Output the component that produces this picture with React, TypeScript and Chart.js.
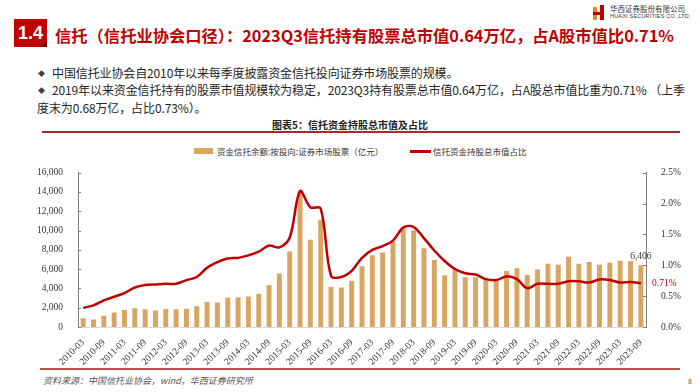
import React, { useEffect, useRef } from "react";
import { Chart, registerables } from "chart.js";

Chart.register(...registerables);

const quarters = [
  "2010-03", "2010-06", "2010-09", "2010-12",
  "2011-03", "2011-06", "2011-09", "2011-12",
  "2012-03", "2012-06", "2012-09", "2012-12",
  "2013-03", "2013-06", "2013-09", "2013-12",
  "2014-03", "2014-06", "2014-09", "2014-12",
  "2015-03", "2015-06", "2015-09", "2015-12",
  "2016-03", "2016-06", "2016-09", "2016-12",
  "2017-03", "2017-06", "2017-09", "2017-12",
  "2018-03", "2018-06", "2018-09", "2018-12",
  "2019-03", "2019-06", "2019-09", "2019-12",
  "2020-03", "2020-06", "2020-09", "2020-12",
  "2021-03", "2021-06", "2021-09", "2021-12",
  "2022-03", "2022-06", "2022-09", "2022-12",
  "2023-03", "2023-06", "2023-09",
];

// 资金信托余额:按投向:证券市场股票（亿元）
const stockValue = [
  900, 780, 1160, 1500,
  1770, 1940, 1840, 1700,
  1870, 1840, 1900, 2140,
  2590, 2550, 3060, 3060,
  3170, 3440, 4320, 5550,
  7830, 14130, 9060, 11130,
  4150, 4100, 4800, 6300,
  7430, 7730, 8850, 10110,
  10040, 8170, 6940, 5370,
  5960, 5170, 5170, 4960,
  4790, 5800, 6100, 5400,
  5950, 6560, 6460, 7280,
  6560, 6730, 6460, 6660,
  6860, 6830, 6406,
];

// 信托资金持股总市值占比（%）
const stockShare = [
  0.31, 0.35, 0.43, 0.49,
  0.55, 0.64, 0.68, 0.69,
  0.70, 0.70, 0.76, 0.81,
  0.96, 1.05, 1.11, 1.12,
  1.16, 1.22, 1.32, 1.29,
  1.45, 2.20, 1.94, 1.92,
  0.83, 0.81, 0.91, 1.12,
  1.25, 1.31, 1.40, 1.61,
  1.62, 1.44, 1.24, 1.07,
  0.94, 0.87, 0.85, 0.775,
  0.76, 0.82, 0.775, 0.63,
  0.70, 0.70, 0.70, 0.74,
  0.74, 0.72, 0.77, 0.76,
  0.72, 0.73, 0.71,
];

const leftAxis = { min: 0, max: 16000, step: 2000 };
const rightAxis = { min: 0, max: 2.5, step: 0.5 };

const seriesNames = ["资金信托余额:按投向:证券市场股票（亿元）", "信托资金持股总市值占比"];

const BAR_COLOR = "#D9A562";
const LINE_COLOR = "#C00000";
const SERIF = "'Liberation Serif', 'Times New Roman', serif";
const SANS = "'Noto Sans CJK SC', 'Noto Sans', sans-serif";

function withCommas(n: number): string {
  const s = String(Math.round(n));
  return s.replace(/\B(?=(\d{3})+(?!\d))/g, ",");
}

const endLabels = {
  id: "endLabels",
  afterDatasetsDraw(chart: any) {
    const { ctx, chartArea } = chart;
    const xs = chart.scales.x;
    const yl = chart.scales.y;
    const yr = chart.scales.y1;
    const last = stockValue.length - 1;
    ctx.save();
    ctx.strokeStyle = "#808080";
    ctx.lineWidth = 1;
    for (let v = leftAxis.min; v <= leftAxis.max; v += leftAxis.step) {
      const py = Math.round(yl.getPixelForValue(v)) + 0.5;
      ctx.beginPath();
      ctx.moveTo(chartArea.left, py);
      ctx.lineTo(chartArea.left + 3, py);
      ctx.stroke();
    }
    for (let v = rightAxis.min; v <= rightAxis.max + 1e-9; v += rightAxis.step) {
      const py = Math.round(yr.getPixelForValue(v)) + 0.5;
      ctx.beginPath();
      ctx.moveTo(chartArea.right - 3, py);
      ctx.lineTo(chartArea.right, py);
      ctx.stroke();
    }
    ctx.font = `9.5px ${SERIF}`;
    ctx.fillStyle = "#404040";
    ctx.textAlign = "center";
    ctx.textBaseline = "bottom";
    ctx.fillText(
      withCommas(stockValue[last]),
      xs.getPixelForValue(last),
      yl.getPixelForValue(stockValue[last]) - 4
    );
    ctx.fillStyle = LINE_COLOR;
    ctx.textAlign = "left";
    ctx.textBaseline = "middle";
    ctx.fillText(
      stockShare[last].toFixed(2) + "%",
      chartArea.right + 6,
      yr.getPixelForValue(stockShare[last])
    );
    ctx.restore();
  },
};

function TrustChart() {
  const ref = useRef<HTMLCanvasElement | null>(null);
  useEffect(() => {
    if (!ref.current) return;
    const chart = new Chart(ref.current, {
      type: "bar",
      data: {
        labels: quarters,
        datasets: [
          {
            type: "line",
            label: seriesNames[1],
            data: stockShare,
            yAxisID: "y1",
            borderColor: LINE_COLOR,
            backgroundColor: LINE_COLOR,
            borderWidth: 2.5,
            pointRadius: 0,
            tension: 0.35,
            order: 0,
          } as any,
          {
            type: "bar",
            label: seriesNames[0],
            data: stockValue,
            yAxisID: "y",
            backgroundColor: BAR_COLOR,
            categoryPercentage: 1,
            barPercentage: 0.48,
            order: 1,
          } as any,
        ],
      },
      options: {
        responsive: false,
        maintainAspectRatio: false,
        animation: false,
        layout: { padding: { top: 10, left: 0, right: 0, bottom: 0 } },
        plugins: {
          legend: { display: false },
          tooltip: { enabled: false },
          title: { display: false },
        },
        scales: {
          x: {
            grid: { display: false },
            border: { display: true, color: "#D9D9D9", width: 1 },
            ticks: {
              autoSkip: false,
              maxRotation: 45,
              minRotation: 45,
              padding: 2,
              color: "#333333",
              font: { family: SERIF, size: 9.5 },
              callback: (_v: any, i: number) => (i % 2 === 0 ? quarters[i] : ""),
            },
            afterFit: (s: any) => {
              s.height = 38;
            },
          },
          y: {
            position: "left",
            min: leftAxis.min,
            max: leftAxis.max,
            grid: { display: false },
            border: { display: true, color: "#808080", width: 1 },
            ticks: {
              stepSize: leftAxis.step,
              padding: 7,
              color: "#333333",
              font: { family: SERIF, size: 9.5 },
              callback: (v: any) => withCommas(Number(v)),
            },
            afterFit: (s: any) => {
              s.width = 78;
            },
          },
          y1: {
            position: "right",
            min: rightAxis.min,
            max: rightAxis.max,
            grid: { display: false },
            border: { display: true, color: "#808080", width: 1 },
            ticks: {
              stepSize: rightAxis.step,
              padding: 7,
              color: "#333333",
              font: { family: SERIF, size: 9.5 },
              callback: (v: any) => Number(v).toFixed(1) + "%",
            },
            afterFit: (s: any) => {
              s.width = 54;
            },
          },
        },
      },
      plugins: [endLabels],
    });
    return () => chart.destroy();
  }, []);
  return (
    <canvas
      ref={ref}
      width={700}
      height={205}
      style={{ position: "absolute", left: 0, top: 160, width: 700, height: 205 }}
    />
  );
}

const abs = (o: React.CSSProperties): React.CSSProperties => ({
  position: "absolute",
  whiteSpace: "nowrap",
  ...o,
});

export default function App() {
  return (
    <div
      style={{
        position: "absolute",
        left: 0,
        top: 0,
        width: 700,
        height: 392,
        background: "#ffffff",
        overflow: "hidden",
        fontFamily: SANS,
      }}
    >
      {/* section box */}
      <div
        style={abs({
          left: 14,
          top: 19,
          width: 33,
          height: 28,
          background: "#C00000",
          color: "#ffffff",
          fontFamily: "'Liberation Sans', Arial, sans-serif",
          fontWeight: 700,
          fontSize: 18,
          lineHeight: "28px",
          textAlign: "center",
        })}
      >
        1.4
        <div
          style={abs({
            right: 0,
            bottom: 0,
            width: 0,
            height: 0,
            borderLeft: "6px solid transparent",
            borderBottom: "6px solid #6E0000",
          })}
        />
      </div>
      <div
        style={abs({
          left: 55,
          top: 24,
          fontSize: 16.3,
          lineHeight: "22px",
          fontWeight: 700,
          color: "#C00000",
        })}
      >
        信托（信托业协会口径）：2023Q3信托持有股票总市值0.64万亿，占A股市值比0.71%
      </div>

      {/* logo */}
      <div style={abs({ left: 593, top: 7, width: 4, height: 13, background: "#E08A2C" })} />
      <div style={abs({ left: 600, top: 5, width: 4, height: 15, background: "#C00000" })} />
      <div style={abs({ left: 593, top: 12, width: 11, height: 3, background: "#C00000" })} />
      <div
        style={abs({
          left: 610,
          top: 4,
          fontSize: 7.5,
          lineHeight: "9px",
          color: "#333333",
        })}
      >
        华西证券股份有限公司
      </div>
      <div
        style={abs({
          left: 610,
          top: 13,
          fontSize: 5.5,
          lineHeight: "7px",
          color: "#333333",
          fontFamily: "'Liberation Sans', Arial, sans-serif",
          letterSpacing: 0.2,
        })}
      >
        HUAXI SECURITIES CO.,LTD.
      </div>

      {/* bullets */}
      <div style={abs({ left: 38, top: 67, fontSize: 7, lineHeight: "12px", color: "#404040" })}>◆</div>
      <div style={abs({ left: 52, top: 64, fontSize: 12, lineHeight: "18px", color: "#262626", letterSpacing: -0.12 })}>
        中国信托业协会自2010年以来每季度披露资金信托投向证券市场股票的规模。
      </div>
      <div style={abs({ left: 38, top: 84, fontSize: 7, lineHeight: "12px", color: "#404040" })}>◆</div>
      <div style={abs({ left: 52, top: 81, fontSize: 12, lineHeight: "18px", color: "#262626", letterSpacing: -0.12 })}>
        2019年以来资金信托持有的股票市值规模较为稳定，2023Q3持有股票总市值0.64万亿，占A股总市值比重为0.71% （上季
      </div>
      <div style={abs({ left: 37, top: 99, fontSize: 12, lineHeight: "18px", color: "#262626", letterSpacing: -0.12 })}>
        度末为0.68万亿，占比0.73%）。
      </div>

      {/* chart title */}
      <div
        style={abs({
          left: 0,
          width: 700,
          top: 118,
          textAlign: "center",
          fontSize: 10,
          lineHeight: "13px",
          fontWeight: 700,
          color: "#222222",
        })}
      >
        图表5：信托资金持股总市值及占比
      </div>
      <div style={abs({ left: 42, top: 131, width: 638, height: 2, background: "#A8292E" })} />

      {/* legend */}
      <div style={abs({ left: 194, top: 148, width: 19, height: 6, background: BAR_COLOR })} />
      <div style={abs({ left: 217, top: 145, fontSize: 8.5, lineHeight: "12px", color: "#333333" })}>
        {seriesNames[0]}
      </div>
      <div style={abs({ left: 410, top: 150, width: 21, height: 3, background: LINE_COLOR })} />
      <div style={abs({ left: 433, top: 145, fontSize: 8.5, lineHeight: "12px", color: "#333333" })}>
        {seriesNames[1]}
      </div>

      <TrustChart />

      {/* footer */}
      <div style={abs({ left: 40, top: 368, width: 640, height: 1.5, background: "#C0504D" })} />
      <div
        style={abs({
          left: 43,
          top: 375,
          fontSize: 9,
          lineHeight: "12px",
          fontStyle: "italic",
          color: "#555555",
        })}
      >
        资料来源：中国信托业协会，wind，华西证券研究所
      </div>
      <div style={abs({ left: 688, top: 376, fontSize: 7, lineHeight: "10px", color: "#555555" })}>8</div>
    </div>
  );
}
